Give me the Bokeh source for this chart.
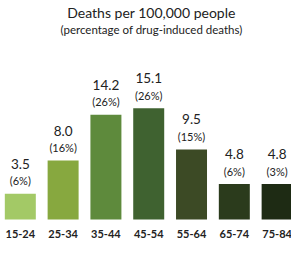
from bokeh.plotting import figure
from bokeh.models import Range1d, Label, ColumnDataSource
from bokeh.core.properties import value
from bokeh.embed import file_html
from bokeh.resources import INLINE

categories = ["15-24", "25-34", "35-44", "45-54", "55-64", "65-74", "75-84"]
rates = [3.5, 8.0, 14.2, 15.1, 9.5, 4.8, 4.8]
shares = ["(6%)", "(16%)", "(26%)", "(26%)", "(15%)", "(6%)", "(3%)"]
colors = ["#a3c966", "#87a83f", "#5e8a3c", "#3f6230", "#3c4a25", "#2b3b1c", "#1e2b14"]
title = "Deaths per 100,000 people"
subtitle = "(percentage of drug-induced deaths)"

W, H = 291, 245
x0, x1 = -0.463, 6.336
y0, y1 = -3.53, 29.71

p = figure(width=W, height=H, output_backend="svg", toolbar_location=None,
           x_range=Range1d(x0, x1), y_range=Range1d(y0, y1),
           min_border=0, min_border_left=0, min_border_right=0,
           min_border_top=0, min_border_bottom=0)
p.axis.visible = False
p.grid.visible = False
p.outline_line_color = None
p.background_fill_color = "white"

xs = list(range(len(categories)))
src = ColumnDataSource(dict(x=xs, top=rates, cat=categories, share=shares,
                            color=colors, val=[f"{v:.1f}" for v in rates],
                            zero=[0] * len(xs)))
p.vbar(x="x", top="top", bottom=0, width=0.724, fill_color="color",
       line_color=None, source=src)

font = value("Lato")
p.text(x="x", y="top", text="val", source=src, text_align="center",
       text_baseline="middle", y_offset=-30, text_font=font,
       text_font_size="13.5px", text_color="#222222")
p.text(x="x", y="top", text="share", source=src, text_align="center",
       text_baseline="middle", y_offset=-13, text_font=font,
       text_font_size="11px", text_color="#222222")
p.text(x="x", y="zero", text="cat", source=src, text_align="center",
       text_baseline="middle", y_offset=15, text_font=font,
       text_font_size="11px", text_font_style="bold", text_color="#222222")

def dx(px):
    return x0 + (px - 8) * (x1 - x0) / W

def dy(py):
    return y0 + (253 - py) * (y1 - y0) / H

p.add_layout(Label(x=dx(159), y=dy(20), text=title, text_align="center",
                   text_baseline="middle", text_font="Lato",
                   text_font_size="14px", text_color="#222222"))
p.add_layout(Label(x=dx(159), y=dy(37), text=subtitle, text_align="center",
                   text_baseline="middle", text_font="Lato",
                   text_font_size="11.5px", text_color="#222222"))

open("out.html", "w").write(file_html(p, INLINE))
